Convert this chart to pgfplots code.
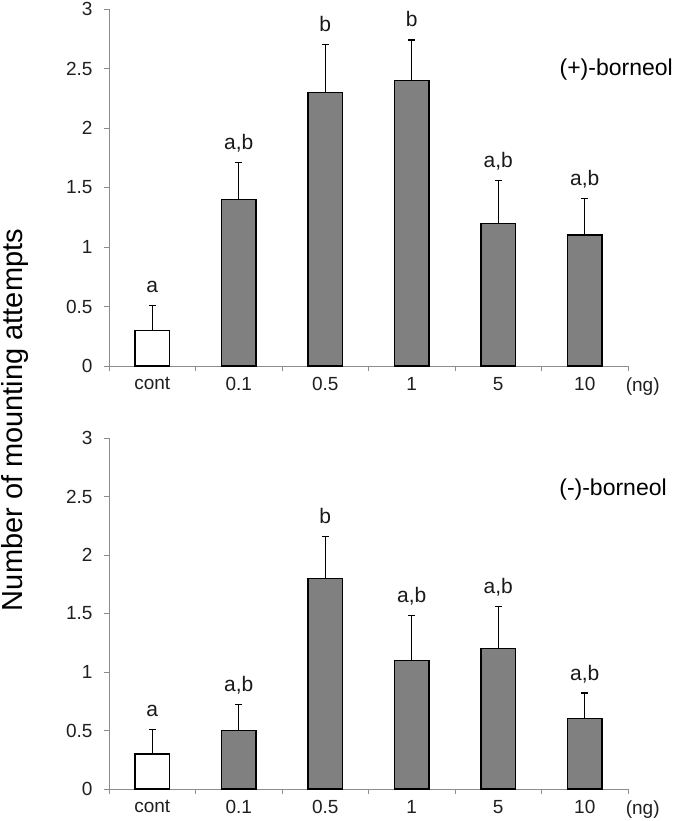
\documentclass[border=0pt]{standalone}
\usepackage{fontspec}
\setmainfont{Liberation Sans}
\usepackage{pgfplots}
\pgfplotsset{compat=1.18}
\usepackage{pgfplotstable}
\definecolor{axgray}{HTML}{8C8C8C}
\definecolor{barfill}{HTML}{808080}

\pgfplotstableread{
x y err
1 1.4 0.31
2 2.3 0.40
3 2.4 0.34
4 1.2 0.36
5 1.1 0.31
}\plusdata
\pgfplotstableread{
x y lab
0 0.51 a
1 1.71 a,b
2 2.70 b
3 2.74 b
4 1.56 a,b
5 1.41 a,b
}\pluslab
\pgfplotstableread{
x y err
1 0.5 0.22
2 1.8 0.36
3 1.1 0.38
4 1.2 0.36
5 0.6 0.22
}\minusdata
\pgfplotstableread{
x y lab
0 0.51 a
1 0.72 a,b
2 2.16 b
3 1.48 a,b
4 1.56 a,b
5 0.82 a,b
}\minuslab

\pgfplotsset{
  panel/.style={
    scale only axis,
    width=519pt,
    xmin=-0.5, xmax=5.5,
    ymin=0, ymax=3,
    axis x line*=bottom,
    axis y line*=left,
    axis line style={axgray, line width=0.9pt},
    xtick={0,...,5},
    xticklabels={cont,0.1,0.5,1,5,10},
    minor xtick={-0.5,0.5,...,5.5},
    major x tick style={draw=none},
    minor x tick style={axgray, line width=0.9pt},
    ytick={0,0.5,...,3},
    y tick style={axgray, line width=0.9pt},
    tick align=outside,
    minor tick length=5pt,
    major tick length=5pt,
    /pgf/number format/assume math mode=true,
    /pgf/number format/fixed,
    tick label style={font=\fontsize{19}{22}\selectfont, text=black!88},
    yticklabel style={xshift=-8pt},
    xticklabel style={yshift=-3pt},
    clip=false,
  },
  ebar/.style={
    ybar, bar width=0.4, bar shift=0pt,
    draw=black, line width=1.3pt,
    error bars/y dir=plus,
    error bars/y explicit,
    error bars/error bar style={line width=1.2pt, black},
    error bars/error mark options={rotate=90, mark size=3.5pt, line width=1.2pt, black},
  },
  labs/.style={
    draw=none, mark=none,
    nodes near coords, point meta=explicit symbolic,
    every node near coord/.append style={font=\fontsize{21}{24}\selectfont, anchor=base, yshift=13pt, inner sep=0pt, text=black!90},
  },
}

\begin{document}
\begin{tikzpicture}
\path[use as bounding box] (0,0) rectangle (675pt,821pt);

\begin{axis}[panel, height=357pt, at={(109pt,455pt)}, anchor=south west]
  \addplot[ebar, fill=white] coordinates {(0,0.3) +- (0,0.21)};
  \addplot[ebar, fill=barfill] table[x=x, y=y, y error=err] {\plusdata};
  \addplot[labs] table[x=x, y=y, meta=lab] {\pluslab};
  \node[font=\fontsize{23}{26}\selectfont, anchor=east, inner sep=0pt] at (axis cs:6.02,2.49) {(+)-borneol};
  \node[font=\fontsize{19}{22}\selectfont, text=black!88, anchor=base, inner sep=0pt] at (axis cs:5.67,0) [yshift=-26pt] {(ng)};
\end{axis}

\begin{axis}[panel, height=351pt, at={(109pt,32pt)}, anchor=south west]
  \addplot[ebar, fill=white] coordinates {(0,0.3) +- (0,0.21)};
  \addplot[ebar, fill=barfill] table[x=x, y=y, y error=err] {\minusdata};
  \addplot[labs] table[x=x, y=y, meta=lab] {\minuslab};
  \node[font=\fontsize{23}{26}\selectfont, anchor=east, inner sep=0pt] at (axis cs:5.95,2.56) {(-)-borneol};
  \node[font=\fontsize{19}{22}\selectfont, text=black!88, anchor=base, inner sep=0pt] at (axis cs:5.67,0) [yshift=-26pt] {(ng)};
\end{axis}

\node[rotate=90, font=\fontsize{29}{32}\selectfont, inner sep=0pt] at (15pt,401pt) {Number of mounting attempts};
\end{tikzpicture}
\end{document}
